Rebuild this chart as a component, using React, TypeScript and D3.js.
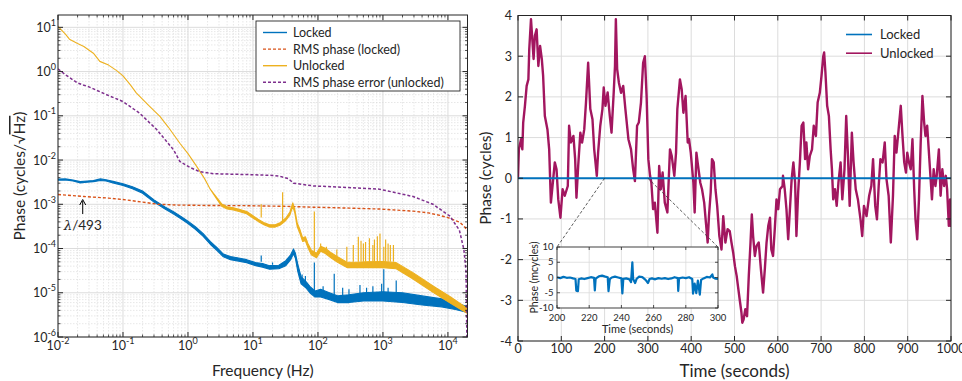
import React from 'react';
import * as d3 from 'd3';

const FONT = 'Lato, "Open Sans", sans-serif';
const INK = '#262626';
const C_LOCK = '#0072BD';
const C_RMS_LOCK = '#D95319';
const C_UNLOCK = '#EDB120';
const C_RMS_UNLOCK = '#7E2F8E';
const C_DRIFT = '#A2165F';

// ---------- left: phase noise spectral density ----------
const lockedFreq = [0.01, 0.013, 0.017, 0.022, 0.028, 0.035, 0.045, 0.055, 0.07, 0.1, 0.14, 0.2, 0.3, 0.45, 0.6, 0.8, 1.0, 1.3, 1.7, 2.2, 2.8, 3.5, 4.5, 6, 8, 11, 14, 18, 25, 32, 38, 42, 45, 49, 55, 65, 75, 90, 110, 150, 200, 300, 500, 1000, 2000, 4000, 8000, 13000, 20000];
const lockedLo = [3.5e-3, 3.55e-3, 3.35e-3, 3.05e-3, 3.15e-3, 3.25e-3, 3.45e-3, 3.35e-3, 3.05e-3, 2.65e-3, 2.25e-3, 1.78e-3, 1.12e-3, 7.7e-4, 6e-4, 4.6e-4, 3.65e-4, 2.7e-4, 1.9e-4, 1.25e-4, 9e-5, 6.5e-5, 5.6e-5, 5.2e-5, 4.8e-5, 4.1e-5, 3.8e-5, 3.4e-5, 3.5e-5, 4.1e-5, 5.6e-5, 7.6e-5, 6e-5, 3e-5, 1.6e-5, 1.3e-5, 1e-5, 8e-6, 8e-6, 7e-6, 6e-6, 6e-6, 6.5e-6, 6.5e-6, 6e-6, 5.3e-6, 4.8e-6, 4.2e-6, 3.6e-6];
const lockedHi = [3.7e-3, 3.75e-3, 3.55e-3, 3.25e-3, 3.35e-3, 3.45e-3, 3.75e-3, 3.6e-3, 3.3e-3, 2.9e-3, 2.5e-3, 2.0e-3, 1.26e-3, 8.6e-4, 6.8e-4, 5.2e-4, 4.15e-4, 3.1e-4, 2.2e-4, 1.45e-4, 1.05e-4, 7.5e-5, 6.6e-5, 6.1e-5, 5.6e-5, 4.8e-5, 4.6e-5, 4.1e-5, 4.2e-5, 5.3e-5, 7.2e-5, 9.8e-5, 7.8e-5, 4.4e-5, 2.3e-5, 1.8e-5, 1.4e-5, 1.1e-5, 1.2e-5, 1e-5, 8.5e-6, 9e-6, 1e-5, 1.05e-5, 1e-5, 8.5e-6, 7.3e-6, 6e-6, 4.8e-6];
const lockedSpikeFreq = [13.4, 20, 57, 64, 88, 120, 178, 240, 300, 443, 560, 700, 955, 1030, 1200, 1600];
const lockedSpikeBase = [5e-5, 4.3e-5, 2e-5, 1.7e-5, 1e-5, 1.1e-5, 9e-6, 8e-6, 8e-6, 9e-6, 9e-6, 9e-6, 1e-5, 1e-5, 1e-5, 1e-5];
const lockedSpikePeak = [7e-5, 4.8e-5, 2.6e-5, 2.4e-5, 4.8e-5, 1.4e-5, 2.7e-5, 1.3e-5, 1.2e-5, 1.5e-5, 1.3e-5, 1.4e-5, 1.6e-5, 3.4e-5, 1.3e-5, 1.9e-5];

const unlockedFreq = [0.01, 0.013, 0.015, 0.02, 0.025, 0.035, 0.044, 0.06, 0.08, 0.1, 0.13, 0.16, 0.25, 0.37, 0.5, 0.75, 1.0, 1.36, 1.8, 2.2, 2.7, 3.3, 4.0, 5, 6.3, 8, 10, 12, 15, 18, 22, 26, 32, 37, 41, 44, 48, 53, 58, 64, 70, 79, 95, 110, 130, 160, 200, 280, 400, 560, 1000, 1600, 2900, 5900, 10700, 20000];
const unlockedLo = [10.5, 7, 5.4, 4.3, 3.7, 2.6, 1.7, 1.4, 1.05, 0.8, 0.5, 0.33, 0.17, 0.097, 0.055, 0.024, 0.014, 0.0072, 0.0038, 0.0022, 0.0014, 9e-4, 7.8e-4, 7.4e-4, 6.8e-4, 6.1e-4, 4.9e-4, 4.1e-4, 3.4e-4, 3.05e-4, 3.05e-4, 3.35e-4, 4.3e-4, 5.7e-4, 9e-4, 6.4e-4, 3.1e-4, 2.15e-4, 1.45e-4, 1.5e-4, 1.05e-4, 7.2e-5, 6.2e-5, 8.7e-5, 7.7e-5, 6.1e-5, 4.9e-5, 3.7e-5, 3.7e-5, 3.7e-5, 3.7e-5, 3.5e-5, 2.05e-5, 1.02e-5, 5.9e-6, 3.4e-6];
const unlockedHi = [10.5, 7, 5.4, 4.3, 3.7, 2.6, 1.7, 1.4, 1.05, 0.8, 0.5, 0.33, 0.17, 0.097, 0.055, 0.024, 0.014, 0.0072, 0.0038, 0.0022, 0.0015, 1.02e-3, 8.8e-4, 8.3e-4, 7.6e-4, 6.9e-4, 5.5e-4, 4.6e-4, 3.8e-4, 3.45e-4, 3.45e-4, 3.8e-4, 4.9e-4, 6.7e-4, 1.08e-3, 7.6e-4, 3.8e-4, 2.65e-4, 1.75e-4, 1.85e-4, 1.3e-4, 9.2e-5, 7.8e-5, 1.12e-4, 1.02e-4, 8e-5, 6.5e-5, 4.9e-5, 4.9e-5, 5e-5, 5.1e-5, 4.8e-5, 2.85e-5, 1.42e-5, 8.2e-6, 4.4e-6];
const unlockedSpikeFreq = [13.4, 28.6, 88, 110, 135, 195, 278, 350, 418, 460, 500, 540, 620, 700, 740, 820, 900, 1030, 1100, 1200, 1300, 1450];
const unlockedSpikeBase = [5e-4, 4e-4, 8e-5, 1e-4, 9e-5, 6.5e-5, 5e-5, 5e-5, 5e-5, 5e-5, 5e-5, 5e-5, 5e-5, 5e-5, 5e-5, 5e-5, 5e-5, 5e-5, 5e-5, 5e-5, 5e-5, 5e-5];
const unlockedSpikePeak = [1e-3, 1.86e-3, 6.9e-4, 1.3e-4, 1.1e-4, 9.5e-5, 1.1e-4, 1.2e-4, 1.84e-4, 1.5e-4, 1.3e-4, 1.4e-4, 1.7e-4, 1.2e-4, 1.6e-4, 1.9e-4, 2.2e-4, 1.1e-4, 1.6e-4, 1.3e-4, 1.2e-4, 1.2e-4];

const rmsLockedFreq = [0.01, 0.025, 0.06, 0.1, 0.2, 0.35, 0.7, 2, 8, 30, 85, 300, 900, 2900, 5000, 7500, 10000, 12000, 15300, 18000, 20000];
const rmsLocked = [1.66e-3, 1.5e-3, 1.38e-3, 1.28e-3, 1.12e-3, 1.0e-3, 9.6e-4, 9.4e-4, 9.3e-4, 9e-4, 8.6e-4, 8.2e-4, 7.8e-4, 7e-4, 6.4e-4, 5.6e-4, 5e-4, 4.5e-4, 3.9e-4, 3.1e-4, 2.5e-4];

const rmsUnlockedFreq = [0.01, 0.013, 0.02, 0.03, 0.056, 0.1, 0.18, 0.33, 0.6, 0.75, 1.07, 1.5, 2.5, 8, 20, 26, 35, 42, 85, 278, 880, 2900, 5900, 10700, 15000, 17600, 19000, 19900];
const rmsUnlocked = [1.15, 0.85, 0.55, 0.45, 0.3, 0.21, 0.115, 0.049, 0.017, 0.0093, 0.0068, 0.0055, 0.0049, 0.0047, 0.0045, 0.0043, 0.0038, 0.003, 0.0026, 0.0024, 0.0022, 0.0015, 1e-3, 5.4e-4, 2.6e-4, 9.5e-5, 3e-5, 1e-7];

const psdLegend = [
  { label: 'Locked', color: C_LOCK, dash: null },
  { label: 'RMS phase (locked)', color: C_RMS_LOCK, dash: '3,2' },
  { label: 'Unlocked', color: C_UNLOCK, dash: null },
  { label: 'RMS phase error (unlocked)', color: C_RMS_UNLOCK, dash: '3,2' },
];

// ---------- right: phase vs time ----------
const driftTime = [0, 2, 7, 10, 12, 16, 20, 24, 26, 30, 33, 36, 39, 43, 47, 51, 55, 58, 62, 68, 72, 76, 82, 85, 89, 93, 98, 103, 108, 115, 118, 122, 128, 132, 135, 139, 144, 148, 153, 157, 162, 167, 172, 176, 182, 185, 190, 195, 198, 202, 207, 212, 216, 221, 224, 226, 229, 233, 238, 243, 248, 255, 261, 266, 270, 275, 279, 284, 289, 293, 297, 301, 305, 308, 312, 316, 322, 326, 330, 334, 339, 345, 351, 355, 361, 365, 368, 374, 378, 382, 387, 392, 395, 399, 405, 408, 412, 416, 421, 425, 430, 434, 438, 441, 445, 448, 452, 456, 460, 465, 470, 474, 479, 484, 489, 493, 497, 501, 505, 508, 512, 516, 518, 521, 525, 529, 533, 537, 540, 543, 547, 551, 556, 561, 566, 570, 574, 578, 582, 585, 589, 593, 597, 601, 605, 611, 612, 616, 620, 624, 628, 632, 636, 640, 643, 647, 651, 655, 659, 663, 666, 670, 674, 679, 683, 688, 692, 697, 701, 705, 707, 710, 714, 718, 722, 725, 728, 732, 736, 740, 745, 749, 754, 758, 762, 766, 771, 775, 780, 785, 791, 795, 799, 805, 811, 816, 820, 825, 829, 833, 837, 842, 847, 851, 856, 861, 866, 870, 874, 879, 884, 888, 892, 896, 899, 903, 907, 911, 915, 918, 922, 926, 930, 934, 938, 941, 945, 949, 953, 956, 960, 964, 967, 972, 976, 980, 984, 988, 991, 995, 998, 1000];
const driftPhase = [0, 0.71, 0.96, 0.71, 1.37, 1.78, 2.27, 2.43, 3.17, 3.91, 3.42, 2.93, 3.5, 3.66, 2.76, 3.25, 2.93, 2.52, 1.53, 1.2, 0.71, -0.6, 0.06, 0.39, 0.22, -0.52, -0.97, -0.27, -0.43, -0.19, 1.29, 0.88, 1.04, 0.47, -0.48, 0.3, 1.12, 0.88, 1.2, 1.86, 2.84, 1.7, 1.45, 0.71, 0.06, 0.63, 1.29, 1.7, 2.23, 1.78, 2.11, 1.53, 1.12, 2.1, 2.76, 3.91, 2.68, 2.35, 2.1, 2.27, 1.7, 0.96, 0.71, 0.22, -0.07, 1.29, 1.37, 1.86, 2.84, 3.0, 2.02, 0.47, 0.06, -0.11, -0.76, -0.6, -1.34, 0.3, -0.27, 0.14, -0.6, -0.84, 0.71, 0.55, 0.06, 0.63, 1.7, 2.43, 2.19, 1.61, 2.02, 0.88, 0.96, 0.63, -0.11, -0.84, 0.63, 0.3, -0.11, -0.27, -0.6, -1.09, -1.58, -0.93, -0.35, 0.47, 0.39, -0.27, -0.68, -1.42, -1.75, -0.93, -1.58, -1.25, -1.3, -1.58, -1.83, -2.16, -2.4, -2.65, -2.98, -3.3, -3.55, -3.47, -3.22, -3.39, -2.4, -1.58, -0.89, -1.42, -1.91, -1.66, -1.58, -2.24, -2.81, -2.24, -1.58, -1.17, -0.97, -1.75, -1.91, -1.25, -0.52, -0.76, -0.27, -0.19, 0.06, -0.27, -0.76, -1.5, -0.76, -0.02, 0.39, -0.11, -1.42, -0.35, 0.39, 1.29, 1.37, 0.47, 0.88, 0.22, 0.55, 0.71, 1.29, 1.04, 1.86, 2.1, 2.52, 3.0, 3.09, 2.6, 1.78, 1.53, 0.71, 0.22, -0.52, -0.27, -0.68, -0.11, 0.39, -0.52, 0.22, 1.53, 0.55, -0.68, 1.12, 0.39, -0.27, -0.52, -1.01, -1.42, -0.68, -0.93, -0.43, -0.19, 0.47, -0.68, -1.01, -0.19, 0.47, 0.39, 0.88, -0.02, -0.43, -1.58, -0.43, 1.04, 0.63, 1.2, 1.78, 1.04, 0.39, 0.14, 0.63, 0.39, 0.22, 0.96, -0.27, -1.01, -1.5, -0.52, 0.88, 2.02, 1.37, 1.04, 1.29, 0.63, -0.02, -0.52, 0.22, -0.19, 0.06, 0.71, -0.43, 0.22, -0.19, 0.06, -0.27, -1.17, -0.52, -1.2];
const driftTicks = [0, 100, 200, 300, 400, 500, 600, 700, 800, 900, 1000];
const phaseTicks = [-4, -3, -2, -1, 0, 1, 2, 3, 4];

// inset: locked phase, 200-300 s, in mcycles
const insetTime = [200, 202, 204, 206, 208, 210, 211.5, 212, 213, 213.5, 215, 217, 219, 221, 223, 223.5, 224, 226, 228, 230, 231.5, 232, 232.8, 234, 236, 238, 240, 240.6, 241.2, 243, 245, 246, 246.8, 247.3, 248.5, 249.5, 251, 253, 255, 256.5, 257.5, 259, 261, 263, 265, 267, 269, 271, 273, 275, 275.3, 275.8, 278, 280, 282, 284, 284.5, 285.5, 286.5, 287.5, 288.7, 289.5, 291, 293, 295, 296.5, 297, 298.5, 300];
const insetPhase = [0.1, -0.2, 0.2, -0.1, 0, -0.3, -0.5, -4.3, -4.5, -0.6, -0.3, -0.5, -0.2, 0.1, -0.1, -4.2, -0.4, 0.4, 0.6, 0.3, 0.1, -4.5, -0.5, 0, 0.3, 0, -0.3, -5.2, -0.4, -0.3, -0.6, -1.5, 5.0, -0.5, -1.8, -0.4, 0.3, 0.1, -0.8, -1.8, -0.5, -0.3, -0.6, -0.2, -0.4, -0.2, -0.5, -0.3, 0.1, -0.2, -4.4, -0.3, 0, -0.2, 0.1, -0.5, -5.3, -2, -5.1, -1, -5.6, -0.8, -0.3, 0.2, 0, 1.0, 0, -0.4, -0.5];
const insetTimeTicks = [200, 220, 240, 260, 280, 300];
const insetPhaseTicks = [-10, -5, 0, 5, 10];

const PowerLabel = ({ x, y, exp, anchor }) => (
  <text x={x} y={y} textAnchor={anchor} fontSize={12.5} fill={INK} fontFamily={FONT}>
    10<tspan dy={-6} fontSize={9}>{exp}</tspan>
  </text>
);

const SpectrumPanel = () => {
  const L = 58, R = 467.5, T = 15, B = 337;
  const x = d3.scaleLog().domain([0.01, 2e4]).range([L, R]);
  const y = d3.scaleLog().domain([1e-6, 19]).range([B, T]);

  const xMajor = d3.range(-2, 5).map(k => Math.pow(10, k));
  const yMajor = d3.range(-6, 2).map(k => Math.pow(10, k));
  const xMinor = [];
  d3.range(-2, 5).forEach(k => d3.range(2, 10).forEach(m => { const v = m * Math.pow(10, k); if (v < 2e4) xMinor.push(v); }));
  const yMinor = [];
  d3.range(-6, 2).forEach(k => d3.range(2, 10).forEach(m => { const v = m * Math.pow(10, k); if (v < 19) yMinor.push(v); }));

  const band = (F, lo, hi) => d3.area<number>()
    .x(i => x(F[i])).y0(i => y(lo[i])).y1(i => y(hi[i]))(d3.range(F.length));
  const line = (F, V) => d3.line<number>().x(i => x(F[i])).y(i => y(V[i]))(d3.range(F.length));

  const spikes = (F, base, peak, color, w) => F.map((f, i) => (
    <line key={i} x1={x(f)} x2={x(f)} y1={y(base[i])} y2={y(peak[i])} stroke={color} strokeWidth={w} />
  ));

  return (
    <g fontFamily={FONT}>
      <defs>
        <clipPath id="psdclip"><rect x={L} y={T} width={R - L} height={B - T} /></clipPath>
      </defs>
      <rect x={L} y={T} width={R - L} height={B - T} fill="#fff" />
      {xMinor.map((v, i) => <line key={'xm' + i} x1={x(v)} x2={x(v)} y1={T} y2={B} stroke="#d6d6d6" strokeWidth={0.6} strokeDasharray="1.5,1.5" />)}
      {yMinor.map((v, i) => <line key={'ym' + i} x1={L} x2={R} y1={y(v)} y2={y(v)} stroke="#d6d6d6" strokeWidth={0.6} strokeDasharray="1.5,1.5" />)}
      {xMajor.map((v, i) => <line key={'xg' + i} x1={x(v)} x2={x(v)} y1={T} y2={B} stroke="#dcdcdc" strokeWidth={1} />)}
      {yMajor.map((v, i) => <line key={'yg' + i} x1={L} x2={R} y1={y(v)} y2={y(v)} stroke="#dcdcdc" strokeWidth={1} />)}

      <g clipPath="url(#psdclip)">
        <path d={band(lockedFreq, lockedLo, lockedHi)} fill={C_LOCK} stroke={C_LOCK} strokeWidth={1.1} strokeLinejoin="round" />
        {spikes(lockedSpikeFreq, lockedSpikeBase, lockedSpikePeak, C_LOCK, 1.2)}
        <path d={line(rmsLockedFreq, rmsLocked)} fill="none" stroke={C_RMS_LOCK} strokeWidth={1.4} strokeDasharray="3,2" />
        <path d={band(unlockedFreq, unlockedLo, unlockedHi)} fill={C_UNLOCK} stroke={C_UNLOCK} strokeWidth={1.1} strokeLinejoin="round" />
        {spikes(unlockedSpikeFreq, unlockedSpikeBase, unlockedSpikePeak, C_UNLOCK, 1.2)}
        <path d={line(rmsUnlockedFreq, rmsUnlocked)} fill="none" stroke={C_RMS_UNLOCK} strokeWidth={1.5} strokeDasharray="3,2" />
      </g>

      {/* ticks on all four sides */}
      {xMajor.map((v, i) => (
        <g key={'xt' + i}>
          <line x1={x(v)} x2={x(v)} y1={B} y2={B - 5} stroke={INK} />
          <line x1={x(v)} x2={x(v)} y1={T} y2={T + 5} stroke={INK} />
        </g>
      ))}
      {xMinor.map((v, i) => (
        <g key={'xmt' + i}>
          <line x1={x(v)} x2={x(v)} y1={B} y2={B - 2.5} stroke={INK} strokeWidth={0.8} />
          <line x1={x(v)} x2={x(v)} y1={T} y2={T + 2.5} stroke={INK} strokeWidth={0.8} />
        </g>
      ))}
      {yMajor.map((v, i) => (
        <g key={'yt' + i}>
          <line x1={L} x2={L + 5} y1={y(v)} y2={y(v)} stroke={INK} />
          <line x1={R} x2={R - 5} y1={y(v)} y2={y(v)} stroke={INK} />
        </g>
      ))}
      {yMinor.map((v, i) => (
        <g key={'ymt' + i}>
          <line x1={L} x2={L + 2.5} y1={y(v)} y2={y(v)} stroke={INK} strokeWidth={0.8} />
          <line x1={R} x2={R - 2.5} y1={y(v)} y2={y(v)} stroke={INK} strokeWidth={0.8} />
        </g>
      ))}
      <rect x={L} y={T} width={R - L} height={B - T} fill="none" stroke={INK} strokeWidth={1} />

      {xMajor.map((v, i) => <PowerLabel key={'xl' + i} x={x(v)} y={350} exp={Math.round(Math.log10(v))} anchor="middle" />)}
      {yMajor.map((v, i) => <PowerLabel key={'yl' + i} x={56} y={y(v) + 4.5} exp={Math.round(Math.log10(v))} anchor="end" />)}

      <text x={(L + R) / 2} y={376} textAnchor="middle" fontSize={15.5} fill={INK}>Frequency (Hz)</text>
      <text transform={`translate(25,${(T + B) / 2}) rotate(-90)`} textAnchor="middle" fontSize={15.5} fill={INK}>
        Phase (cycles/√<tspan style={{ textDecoration: 'overline' }}>Hz</tspan>)
      </text>

      {/* lambda/493 marker */}
      <line x1={x(0.024)} x2={x(0.024)} y1={214} y2={201} stroke="#000" strokeWidth={1} />
      <path d={`M${x(0.024) - 3},${205} L${x(0.024)},${199.5} L${x(0.024) + 3},${205}`} fill="none" stroke="#000" strokeWidth={1} />
      <text x={x(0.024)} y={230} textAnchor="middle" fontSize={13.5} fill={INK}>
        <tspan fontStyle="italic" fontFamily="'DejaVu Serif', serif">λ</tspan>/493
      </text>

      {/* legend */}
      <rect x={256} y={21} width={204} height={70} fill="#fff" stroke={INK} strokeWidth={0.9} />
      {psdLegend.map((d, i) => (
        <g key={d.label} transform={`translate(0,${32.5 + i * 16.6})`}>
          <line x1={263} x2={287} y1={0} y2={0} stroke={d.color} strokeWidth={1.4} strokeDasharray={d.dash || undefined} />
          <text x={293} y={4.5} fontSize={12.5} fill={INK}>{d.label}</text>
        </g>
      ))}
    </g>
  );
};

const DriftPanel = () => {
  const L = 518, R = 951, T = 15.5, B = 341;
  const x = d3.scaleLinear().domain([0, 1000]).range([L, R]);
  const y = d3.scaleLinear().domain([-4, 4]).range([B, T]);

  const IL = 557, IR = 718, IT = 247, IB = 308;
  const ix = d3.scaleLinear().domain([200, 300]).range([IL, IR]);
  const iy = d3.scaleLinear().domain([-10, 10]).range([IB, IT]);

  const drift = d3.line<number>().x(i => x(driftTime[i])).y(i => y(driftPhase[i]))(d3.range(driftTime.length));
  const inset = d3.line<number>().x(i => ix(insetTime[i])).y(i => iy(insetPhase[i]))(d3.range(insetTime.length));

  return (
    <g fontFamily={FONT}>
      <defs>
        <clipPath id="driftclip"><rect x={L} y={T} width={R - L} height={B - T} /></clipPath>
      </defs>
      {driftTicks.map(t => <line key={'gx' + t} x1={x(t)} x2={x(t)} y1={T} y2={B} stroke="#dcdcdc" strokeWidth={1} />)}
      {phaseTicks.map(p => <line key={'gy' + p} x1={L} x2={R} y1={y(p)} y2={y(p)} stroke="#dcdcdc" strokeWidth={1} />)}

      <g clipPath="url(#driftclip)">
        <path d={drift} fill="none" stroke={C_DRIFT} strokeWidth={2.4} strokeLinejoin="round" />
        <line x1={L} x2={R} y1={y(0)} y2={y(0)} stroke={C_LOCK} strokeWidth={2.2} />
      </g>

      {driftTicks.map(t => (
        <g key={'tx' + t}>
          <line x1={x(t)} x2={x(t)} y1={B} y2={B - 5} stroke={INK} />
          <line x1={x(t)} x2={x(t)} y1={T} y2={T + 5} stroke={INK} />
          <text x={x(t)} y={353} textAnchor="middle" fontSize={12.5} fill={INK}>{t}</text>
        </g>
      ))}
      {phaseTicks.map(p => (
        <g key={'ty' + p}>
          <line x1={L} x2={L + 5} y1={y(p)} y2={y(p)} stroke={INK} />
          <line x1={R} x2={R - 5} y1={y(p)} y2={y(p)} stroke={INK} />
          <text x={512} y={y(p) + 4.5} textAnchor="end" fontSize={12.5} fill={INK}>{p}</text>
        </g>
      ))}
      <rect x={L} y={T} width={R - L} height={B - T} fill="none" stroke={INK} strokeWidth={1} />

      <text x={(L + R) / 2} y={377} textAnchor="middle" fontSize={17} fill={INK}>Time (seconds)</text>
      <text transform={`translate(491,${(T + B) / 2}) rotate(-90)`} textAnchor="middle" fontSize={15.5} fill={INK}>Phase (cycles)</text>

      {/* zoom connectors */}
      <line x1={x(200)} y1={y(0)} x2={IL} y2={IT} stroke="#333" strokeWidth={0.8} strokeDasharray="3,2" />
      <line x1={x(300)} y1={y(0)} x2={IR} y2={IT} stroke="#333" strokeWidth={0.8} strokeDasharray="3,2" />

      {/* inset */}
      <rect x={IL} y={IT} width={IR - IL} height={IB - IT} fill="#fff" />
      {insetTimeTicks.map(t => <line key={'igx' + t} x1={ix(t)} x2={ix(t)} y1={IT} y2={IB} stroke="#dcdcdc" strokeWidth={0.8} />)}
      {insetPhaseTicks.map(p => <line key={'igy' + p} x1={IL} x2={IR} y1={iy(p)} y2={iy(p)} stroke="#dcdcdc" strokeWidth={0.8} />)}
      <path d={inset} fill="none" stroke={C_LOCK} strokeWidth={2.2} strokeLinejoin="round" />
      {insetTimeTicks.map(t => (
        <g key={'itx' + t}>
          <line x1={ix(t)} x2={ix(t)} y1={IB} y2={IB - 3} stroke={INK} strokeWidth={0.8} />
          <line x1={ix(t)} x2={ix(t)} y1={IT} y2={IT + 3} stroke={INK} strokeWidth={0.8} />
          <text x={ix(t)} y={320.5} textAnchor="middle" fontSize={9.5} fill={INK}>{t}</text>
        </g>
      ))}
      {insetPhaseTicks.map(p => (
        <g key={'ity' + p}>
          <line x1={IL} x2={IL + 3} y1={iy(p)} y2={iy(p)} stroke={INK} strokeWidth={0.8} />
          <line x1={IR} x2={IR - 3} y1={iy(p)} y2={iy(p)} stroke={INK} strokeWidth={0.8} />
          <text x={553.5} y={iy(p) + 3} textAnchor="end" fontSize={9.5} fill={INK}>{p}</text>
        </g>
      ))}
      <rect x={IL} y={IT} width={IR - IL} height={IB - IT} fill="none" stroke={INK} strokeWidth={0.8} />
      <text x={(IL + IR) / 2} y={332.5} textAnchor="middle" fontSize={11} fill={INK}>Time (seconds)</text>
      <text transform={`translate(537.5,${(IT + IB) / 2}) rotate(-90)`} textAnchor="middle" fontSize={10.5} fill={INK}>Phase (mcycles)</text>

      {/* legend */}
      {[{ label: 'Locked', color: C_LOCK }, { label: 'Unlocked', color: C_DRIFT }].map((d, i) => (
        <g key={d.label} transform={`translate(0,${34.5 + i * 18.7})`}>
          <line x1={846} x2={872} y1={0} y2={0} stroke={d.color} strokeWidth={1.6} />
          <text x={880} y={4.5} fontSize={13} fill={INK}>{d.label}</text>
        </g>
      ))}
    </g>
  );
};

const App = () => (
  <svg width={962} height={381} style={{ position: 'absolute', left: 0, top: 0, background: '#fff' }}>
    <rect width={962} height={381} fill="#fff" />
    <SpectrumPanel />
    <DriftPanel />
  </svg>
);

export default App;
